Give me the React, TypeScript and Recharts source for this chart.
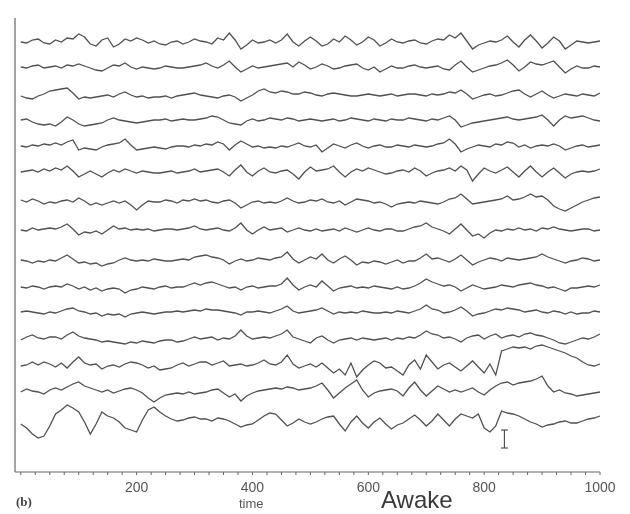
import { LineChart, Line, XAxis, YAxis, ReferenceLine } from 'recharts'

// sample times (x) shared by every trace
const times = [
  0, 10, 20, 30, 40, 50, 60, 70, 80, 90, 100, 110, 120, 130, 140, 150, 160, 170, 180, 190,
  200, 210, 220, 230, 240, 250, 260, 270, 280, 290, 300, 310, 320, 330, 340, 350, 360, 370, 380, 390,
  400, 410, 420, 430, 440, 450, 460, 470, 480, 490, 500, 510, 520, 530, 540, 550, 560, 570, 580, 590,
  600, 610, 620, 630, 640, 650, 660, 670, 680, 690, 700, 710, 720, 730, 740, 750, 760, 770, 780, 790,
  800, 810, 820, 830, 840, 850, 860, 870, 880, 890, 900, 910, 920, 930, 940, 950, 960, 970, 980, 990,
  1000,
]

const xTicks = [
  0, 25, 50, 75, 100, 125, 150, 175, 200, 225, 250, 275, 300, 325, 350, 375, 400, 425, 450, 475,
  500, 525, 550, 575, 600, 625, 650, 675, 700, 725, 750, 775, 800, 825, 850, 875, 900, 925, 950,
  975, 1000,
]
const tickLabels = [200, 400, 600, 800, 1000]

// vertical offset of each channel, top to bottom
const baselines = [430, 405, 377, 352, 326, 300, 270, 242, 212, 185, 160, 134, 107, 82, 50]

const trace01 = [0, -1, 2, 3, -1, -2, 2, 0, 4, 3, 8, 5, -2, -4, 2, 4, -5, -2, 3, 1, 4, 2, -1, 1, -2, -3, 0, 1, -2, 0, 3, 1, 0, -2, 4, 2, 9, 2, -7, -3, 2, -1, 0, 2, -1, 2, 8, 0, -4, 1, 5, 1, -4, -2, 3, 0, 6, 2, -3, 0, 5, 2, -4, -1, 3, 0, -1, 1, 2, -1, -2, 1, 3, 2, 7, 4, 9, 1, -7, -3, -1, 1, 0, 2, 6, 0, -5, 2, 7, 1, -6, -1, 5, 1, -7, -3, 1, 0, -1, 0, 1]
const trace02 = [0, -1, 1, 2, -1, 0, 1, -1, 2, 1, 3, 1, -1, -3, -4, -1, 2, 1, 4, 0, -2, 0, -1, -2, -1, 1, 0, -1, -1, 0, 1, 2, 4, 1, -1, 2, 6, 0, -5, -2, 1, -1, 0, 1, 2, 3, 4, 0, 5, 2, -2, 0, 3, 1, -2, -1, 1, 2, 3, -1, -3, 0, -5, -2, 1, -1, -1, 1, 2, 0, -1, 0, 1, -2, -3, 2, 6, 0, -5, -3, -1, 1, 2, 4, 7, 2, -4, 0, 5, 3, 2, 4, 6, 0, -6, -2, 1, -1, -1, 1, 0]
const trace03 = [-1, -3, -4, -1, 1, 4, 5, 6, 7, 2, -4, -2, -3, -2, -1, 0, -2, 1, 3, 0, -2, -1, -3, -2, -2, -1, -3, -1, 0, 1, 2, 0, -1, -2, -3, -1, 0, -2, -6, -3, 0, 4, 6, 3, 2, 4, 3, 1, 1, 3, 2, 0, -1, 1, 2, 1, 0, -1, -1, 0, 1, 0, -1, 0, 1, -1, 0, 1, 1, 0, -1, 1, 0, 1, 3, 2, 5, 1, -4, -2, 0, 1, -1, 0, 2, 4, 5, 1, -2, 1, 4, 0, -3, -1, 1, 0, -1, 1, 0, -1, 2]
const trace04 = [0, 1, -2, -4, -5, -4, -6, -2, 3, 0, -4, -6, -5, -4, -3, 0, 2, 0, -1, -2, -3, -2, -1, 0, 0, 1, -1, 0, 1, 0, 0, 1, 2, 4, 3, 0, -3, -4, -5, -1, 1, -1, 0, 2, 1, 0, 2, 1, -1, 0, 1, 0, -1, 0, 1, -1, 0, 2, 1, 0, -1, 1, 0, -1, 1, 0, 0, 2, 1, 0, -1, 1, 0, 2, 4, 0, -7, -5, -3, -2, -1, 0, 1, 2, 3, 1, 0, 1, 2, 3, 5, 0, -6, 0, 4, 2, 3, 4, 2, 0, -1]
const trace05 = [0, -1, 1, 0, 2, 1, 3, 1, 4, 6, -4, -2, -3, -4, -1, 1, 2, 3, 7, 1, -4, -3, -2, -1, -2, -3, -1, 0, 0, -1, 1, 0, 2, 1, 4, 2, -4, 1, 5, 2, -1, 0, -2, -1, -2, 0, -1, 1, 3, 0, -1, 1, -6, -2, 2, 0, -2, 1, 3, 0, -2, 0, 1, -1, -1, 1, 0, -1, 1, 0, -1, 0, 2, 3, 7, 2, -6, -3, -1, 1, 0, -1, 2, 1, 4, 3, -1, 1, -2, 0, 1, 0, 2, 0, -4, -2, 0, 1, -1, 0, 1]
const trace06 = [0, 1, 2, 0, 3, 1, 4, 2, 6, 1, -5, -2, 1, -2, -5, -1, 2, 0, 3, 1, -1, 1, 0, -1, -1, 0, 1, -1, 0, 1, 3, 0, 1, 2, 3, 0, -4, 2, 7, 0, -4, 1, 4, 0, -1, 1, 2, -2, -7, 0, 5, 1, 2, 3, 6, 0, -5, 0, 3, 1, 4, 2, 0, -2, -1, 1, 2, 0, 4, 1, -4, -1, 1, 2, 4, 1, 6, 2, -9, -2, 4, 1, -1, 2, 5, 0, -5, 1, 6, 0, -5, 0, 4, -1, -6, -2, 0, 1, 0, 1, 3]
const trace07 = [2, 0, 3, 1, -2, 0, -1, 1, 2, 0, 4, 1, -3, -1, -3, -1, 1, -1, 1, -3, -8, -3, 1, 0, 0, 2, 1, -1, 2, 1, 3, 1, 2, 0, -1, 1, 2, -1, -6, -3, 0, 1, -1, 0, -1, 1, 4, 1, -1, 0, 2, 1, 3, 0, -1, 1, -3, 0, 3, 2, 1, -1, 0, -2, -5, -2, -1, 0, -1, 1, 0, -1, -2, 0, 3, 4, 8, 3, -2, -1, 0, 1, 2, 3, 6, 2, 3, 5, 8, 5, 6, 2, -4, -7, -9, -6, -3, 0, 2, 4, 5]
const trace08 = [0, -1, 2, 0, 1, 2, 1, 3, 6, 1, -5, -2, -3, -1, -4, 0, 4, 1, 2, 0, 1, 0, 1, -1, 0, 1, 1, 0, 1, 2, 4, 1, 0, 1, 2, 0, -1, 2, 7, 0, -4, 0, 3, 0, 1, 2, -2, 0, 2, 0, -1, 1, -1, 0, 1, -1, 2, 0, -2, 0, 2, 0, -1, 1, 1, -1, -1, 1, 3, 4, 7, 3, 1, -1, -4, 1, 6, 0, -6, -4, -8, -3, 0, -1, 1, 0, 2, 0, 1, -1, 2, 1, 3, 1, 0, -1, 0, 1, 1, -1, 0]
const trace09 = [0, -1, -3, -1, -2, 0, -1, 2, 5, 1, -3, -2, -4, -3, -6, -4, -3, 0, 2, 0, -1, 0, -1, 1, 0, -1, -1, 0, 1, 0, 3, 4, 5, 3, 2, 0, -4, -1, 1, -1, 0, 2, 1, 0, 2, 3, 8, 1, -3, 0, 3, 1, 6, 0, -3, 1, 4, 0, -5, -2, -3, -1, -2, -4, -2, 0, -3, -1, -1, 2, 6, 1, 2, 0, -2, 1, 5, 0, -5, -2, 0, 2, 1, -1, 2, 1, 0, 1, 2, 3, 6, 3, 1, -1, -3, -1, 0, 2, 1, -1, 0]
const trace10 = [0, -1, 1, 0, -2, 0, 1, 0, 3, 1, -2, 0, -3, -1, -4, -2, -1, -2, -6, -3, -2, 0, -1, -2, 0, 1, -1, 0, 0, 2, 4, 2, 4, 5, 3, 1, -1, 0, -3, 0, 1, -1, 0, 1, 1, 3, 9, 2, -3, 0, 2, 0, 6, 1, -4, -1, 0, 1, -1, 0, -1, 1, 0, -1, -2, 0, -2, -1, 1, 4, 8, 5, 3, 1, 2, 0, -4, -1, 2, 0, -2, -1, 0, 2, 1, 0, 2, 3, 4, 2, 1, -1, 0, -2, -4, -1, -1, 0, 1, 0, 2]
const trace11 = [0, 1, 0, -1, -2, 0, -1, 1, 3, 4, 1, 0, -2, -1, -4, -2, -3, -2, -5, -2, -1, 0, -1, -2, -1, 0, 0, 1, 0, 1, 2, 1, 3, 2, 2, 1, 0, -1, -3, 0, 0, 1, 0, -1, 1, 3, 6, 1, -1, 0, 1, 2, 4, 1, -2, 0, -1, 0, -1, 1, 0, -1, -1, 0, -1, 1, 0, -1, 1, 3, 7, 3, 2, -1, 0, 2, 5, 1, -4, -2, -1, 1, 3, 2, 4, 3, 2, 0, 1, 2, 0, -1, 1, 0, -2, 0, -2, -1, -1, 1, 0]
const trace12 = [-2, 1, 3, 0, -1, 1, 1, -1, 3, 6, 2, 0, -1, -2, -4, -3, -4, -5, -6, -4, -5, -3, -4, -5, -3, -2, -2, -4, -3, -1, 1, -1, 0, 1, -2, 0, -1, 2, 8, 2, -1, 0, 1, 0, 2, 4, 8, 1, -1, -3, -5, 0, 2, -2, -5, -2, -1, 0, -2, 0, -1, -2, -1, 0, -2, 0, -1, 1, 0, 3, 7, 4, 3, 0, 1, -1, -4, 0, 2, 3, -1, 2, 4, 0, 2, 3, 1, 4, 5, 3, 2, 0, -2, -5, -6, -4, -2, 0, -1, 1, 4]
const trace13 = [-1, 0, 3, 0, 3, 1, -2, 2, -3, 3, 8, 2, 0, 1, -4, -1, 0, -2, 1, 3, 2, 0, -3, -1, -5, -4, -3, 0, 2, -1, 1, 3, 3, 0, 2, 4, -1, 0, 1, -1, 0, 2, 5, 1, 0, 3, 10, 1, -3, -1, 1, -2, 2, -3, -8, -4, -10, 2, -12, -5, 0, 4, 2, -3, -2, -6, -10, 0, 5, -4, 10, 3, -4, 0, 2, -2, -6, -1, 4, -2, -8, 1, -10, 14, 16, 18, 17, 18, 16, 19, 20, 18, 16, 14, 12, 9, 7, 3, 0, -1, 1]
const trace14 = [-2, 1, -1, -2, -4, 0, 2, 0, 3, 6, 8, 4, 2, 0, -2, 0, -3, -1, 1, 2, 0, -3, -8, -12, -8, -5, -4, -3, -4, -2, -4, -3, -2, 0, 1, -3, -7, -4, -11, -6, -3, -1, 0, 1, 2, 1, 3, 2, 0, 1, 2, 4, 7, 0, -8, -3, 2, 6, 10, 0, -7, -3, -1, 0, 1, -1, -6, 2, 8, 0, -6, -1, 4, 1, -2, 0, -2, 0, 2, -2, -5, 0, 4, 7, 8, 5, 7, 8, 9, 11, 14, 4, -2, 0, -3, -4, -6, -5, -4, -3, -2]
const trace15 = [-2, -6, -12, -16, -14, -4, 8, 12, 17, 14, 10, 0, -12, -2, 10, 6, 4, 0, -6, -8, -10, 2, 12, 15, 10, 6, 3, 1, 2, 4, 5, 3, 3, 1, 4, 3, 1, -2, -5, -3, -2, 2, 6, 9, 8, 2, -4, -1, 3, 0, -2, 0, 3, 5, 6, -2, -9, 0, 6, -1, -6, 0, 4, -2, -7, -3, -1, 3, 7, 2, -4, 1, 8, 2, -4, 3, 8, 6, 4, 8, -6, -10, -4, 11, 9, 8, 6, 3, 0, -2, -5, -3, -2, 0, 1, -1, -1, 1, 3, 4, 6]

const traces = [
  trace01, trace02, trace03, trace04, trace05, trace06, trace07, trace08,
  trace09, trace10, trace11, trace12, trace13, trace14, trace15,
]

const data = times.map((t, i) => {
  const row: Record<string, number> = { t }
  traces.forEach((tr, k) => {
    row['c' + k] = baselines[k] + tr[i]
  })
  return row
})

const ink = '#505050'

export default function App() {
  return (
    <div
      style={{
        position: 'absolute',
        left: 0,
        top: 0,
        width: 630,
        height: 514,
        background: '#fff',
        filter: 'blur(0.45px)',
      }}
    >
      <LineChart width={630} height={514} data={data} margin={{ top: 15, right: 30, bottom: 12, left: 15 }}>
        <XAxis
          dataKey="t"
          type="number"
          domain={[-10, 1000]}
          ticks={xTicks}
          interval={0}
          height={30}
          stroke="#666"
          tickSize={3}
          tickMargin={7}
          tick={{ fill: '#555', fontSize: 14, fontFamily: 'Liberation Sans, Arial, sans-serif' }}
          tickFormatter={(v: number) => (tickLabels.includes(v) ? String(v) : '')}
        />
        <YAxis type="number" domain={[0, 457]} hide />
        {/* left axis line */}
        <ReferenceLine segment={[{ x: -10, y: 0 }, { x: -10, y: 454 }]} stroke="#666" strokeWidth={1.2} />
        {traces.map((_, k) => (
          <Line
            key={k}
            dataKey={'c' + k}
            type="linear"
            stroke={ink}
            strokeWidth={1.3}
            dot={false}
            isAnimationActive={false}
          />
        ))}
        {/* amplitude scale bar */}
        <ReferenceLine segment={[{ x: 835, y: 24 }, { x: 835, y: 42 }]} stroke={ink} strokeWidth={1.2} />
        <ReferenceLine segment={[{ x: 829, y: 42 }, { x: 841, y: 42 }]} stroke={ink} strokeWidth={1.2} />
        <ReferenceLine segment={[{ x: 829, y: 24 }, { x: 841, y: 24 }]} stroke={ink} strokeWidth={1.2} />
      </LineChart>
      <svg
        width={630}
        height={514}
        style={{ position: 'absolute', left: 0, top: 0, pointerEvents: 'none' }}
      >
        <text x={16} y={506} fontSize={13} fontWeight="bold" fontFamily="Liberation Serif, serif" fill="#444">
          (b)
        </text>
        <text x={239} y={508} fontSize={13} fontFamily="Liberation Sans, Arial, sans-serif" fill="#555">
          time
        </text>
        <text x={381} y={508} fontSize={24} fontFamily="Liberation Sans, Arial, sans-serif" fill="#3a3a3a">
          Awake
        </text>
      </svg>
    </div>
  )
}
